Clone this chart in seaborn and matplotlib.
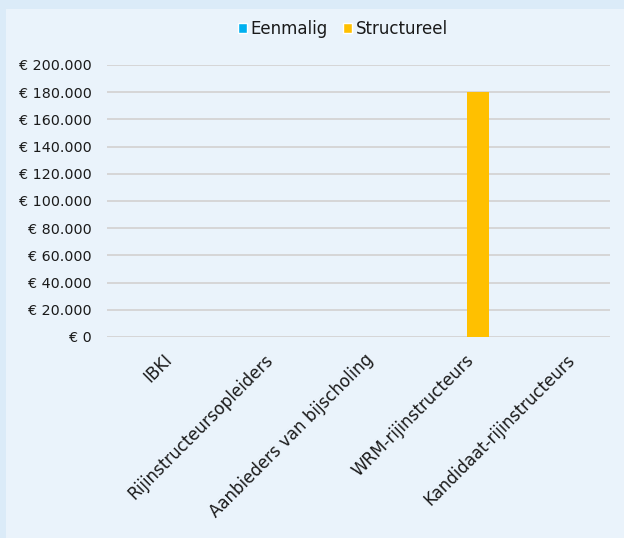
import pandas as pd
import numpy as np
import matplotlib.pyplot as plt
import matplotlib.transforms as mtransforms
import seaborn as sns
from matplotlib.patches import Rectangle, Patch
from matplotlib.ticker import FuncFormatter

# data
categories = ['IBKI', 'Rijinstructeursopleiders', 'Aanbieders van bijscholing',
              'WRM-rijinstructeurs', 'Kandidaat-rijinstructeurs']
eenmalig = [0, 0, 0, 0, 0]
structureel = [0, 0, 0, 180000, 0]
series = ['Eenmalig', 'Structureel']
colors = ['#00b0f0', '#ffc000']

df = pd.DataFrame({
    'categorie': categories * 2,
    'soort': ['Eenmalig'] * 5 + ['Structureel'] * 5,
    'bedrag': eenmalig + structureel,
})

sns.set_style('white')
plt.rcParams['font.family'] = ['DejaVu Sans']

fig = plt.figure(figsize=(6.24, 5.38), dpi=100)
fig.patch.set_facecolor('#dbebf8')
# inner light panel
fig.patches.append(Rectangle((6 / 624, 0), 1, 1 - 9 / 538, transform=fig.transFigure,
                             facecolor='#eaf3fb', edgecolor='none', zorder=-5))

ax = fig.add_axes([107 / 624, 1 - 337 / 538, 503 / 624, 272 / 538])
ax.set_facecolor('none')
ax.set_zorder(2)

sns.barplot(data=df, x='categorie', y='bedrag', hue='soort', palette=colors,
            width=0.76, gap=0.42, ax=ax, legend=False, saturation=1, linewidth=0)

ax.set_ylim(0, 200000)
ax.set_yticks(np.arange(0, 200001, 20000))
ax.yaxis.set_major_formatter(FuncFormatter(lambda v, p: '€ ' + f'{int(v):,}'.replace(',', '.')))
ax.grid(axis='y', color='#d6d6d6', linewidth=1.4)
ax.set_axisbelow(True)
for s in ax.spines.values():
    s.set_visible(False)
ax.tick_params(axis='y', length=0, labelsize=10.3, colors='#1a1a1a', pad=11)
ax.tick_params(axis='x', length=0, labelsize=12, colors='#1a1a1a', pad=10)
ax.set_xticks(range(len(categories)))
ax.set_xticklabels(categories, rotation=45, ha='right', rotation_mode='anchor')
shift = mtransforms.ScaledTranslation(6 / 100, 0, fig.dpi_scale_trans)
for lbl in ax.get_xticklabels():
    lbl.set_transform(lbl.get_transform() + shift)
ax.set_xlabel('')
ax.set_ylabel('')

handles = [Patch(facecolor=c, label=l) for c, l in zip(colors, series)]
fig.legend(handles=handles, loc='center', bbox_to_anchor=(343 / 624, 1 - 29 / 538), ncol=2,
           frameon=False, fontsize=12, handlelength=0.55, handleheight=0.55,
           handletextpad=0.2, columnspacing=0.9, labelcolor='#1a1a1a')

plt.savefig('out.png', dpi=100, facecolor=fig.get_facecolor())
